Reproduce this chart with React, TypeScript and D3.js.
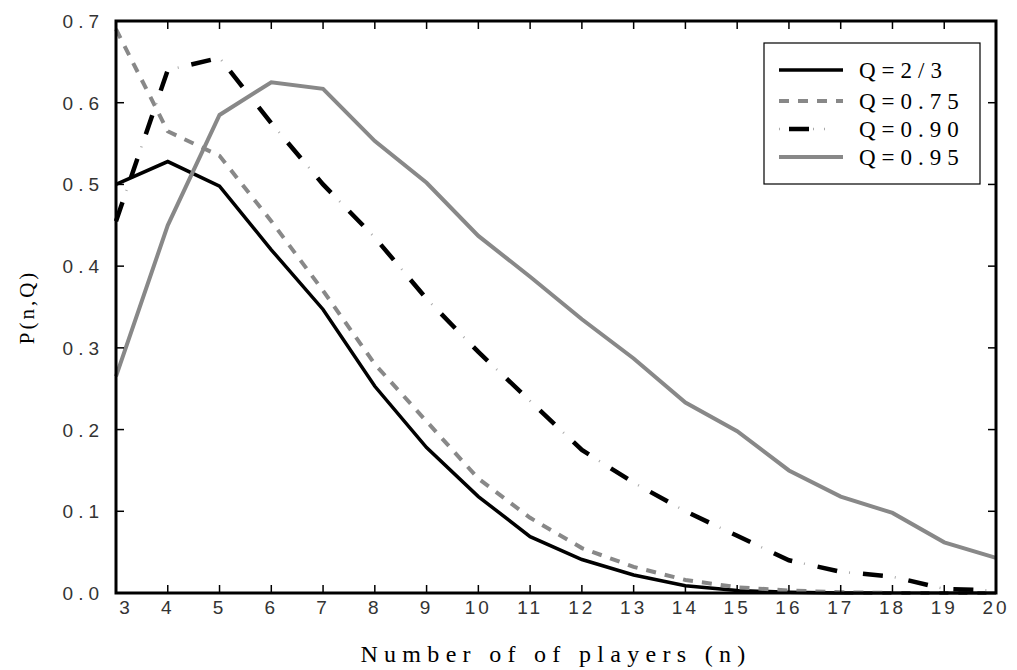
import { useEffect, useRef } from "react";
import * as d3 from "d3";

const players = [3, 4, 5, 6, 7, 8, 9, 10, 11, 12, 13, 14, 15, 16, 17, 18, 19, 20];

const q23 = [0.5, 0.528, 0.498, 0.42, 0.347, 0.253, 0.178, 0.118, 0.069, 0.041, 0.022, 0.009, 0.003, 0.001, 0, 0, 0, 0];
const q75 = [0.69, 0.565, 0.535, 0.455, 0.37, 0.28, 0.21, 0.14, 0.092, 0.055, 0.032, 0.016, 0.007, 0.003, 0.001, 0, 0, 0];
const q90 = [0.455, 0.64, 0.655, 0.575, 0.5, 0.435, 0.36, 0.295, 0.235, 0.175, 0.135, 0.1, 0.07, 0.04, 0.026, 0.02, 0.005, 0.003];
const q95 = [0.265, 0.45, 0.585, 0.625, 0.617, 0.553, 0.502, 0.437, 0.387, 0.335, 0.287, 0.233, 0.198, 0.15, 0.118, 0.098, 0.062, 0.043];

const seriesNames = ["Q=2/3", "Q=0.75", "Q=0.90", "Q=0.95"];
const yTicks = [0, 0.1, 0.2, 0.3, 0.4, 0.5, 0.6, 0.7];

// dot: optional thin grey dot drawn in the gaps of a dash-dot line
const styles = [
  { color: "#000", width: 3.5, dash: null, dot: false },
  { color: "#888", width: 4, dash: "10,9", dot: false },
  { color: "#000", width: 4.5, dash: "20,26", dot: true },
  { color: "#888", width: 4, dash: null, dot: false },
];

const App = () => {
  const svgRef = useRef<SVGSVGElement>(null);

  useEffect(() => {
    const svg = d3.select(svgRef.current);
    svg.selectAll("*").remove();

    const width = 1017;
    const height = 670;
    const margin = { top: 21, right: 21, bottom: 77, left: 116 };

    const x = d3.scaleLinear().domain([3, 20]).range([margin.left, width - margin.right]);
    const y = d3.scaleLinear().domain([0, 0.7]).range([height - margin.bottom, margin.top]);

    const all = [q23, q75, q90, q95];

    const line = d3
      .line<number>()
      .x((_, i) => x(players[i]))
      .y((d) => y(d));

    const plot = svg.append("g");
    all.forEach((vals, k) => {
      const s = styles[k];
      const p = plot
        .append("path")
        .attr("d", line(vals))
        .attr("fill", "none")
        .attr("stroke", s.color)
        .attr("stroke-width", s.width)
        .attr("stroke-linejoin", "miter");
      if (s.dash) p.attr("stroke-dasharray", s.dash);
      if (s.dot) {
        plot
          .append("path")
          .attr("d", line(vals))
          .attr("fill", "none")
          .attr("stroke", "#aaa")
          .attr("stroke-width", 2.5)
          .attr("stroke-dasharray", "1,45")
          .attr("stroke-dashoffset", -32);
      }
    });

    // ticks pointing inward on all four sides
    const tickLen = 8;
    const ticks = svg.append("g").attr("stroke", "#000").attr("stroke-width", 1.5);
    players.forEach((n) => {
      ticks.append("line").attr("x1", x(n)).attr("x2", x(n)).attr("y1", y(0)).attr("y2", y(0) - tickLen);
      ticks.append("line").attr("x1", x(n)).attr("x2", x(n)).attr("y1", y(0.7)).attr("y2", y(0.7) + tickLen);
    });
    yTicks.forEach((v) => {
      ticks.append("line").attr("x1", x(3)).attr("x2", x(3) + tickLen).attr("y1", y(v)).attr("y2", y(v));
      ticks.append("line").attr("x1", x(20)).attr("x2", x(20) - tickLen).attr("y1", y(v)).attr("y2", y(v));
    });

    svg
      .append("rect")
      .attr("x", x(3))
      .attr("y", y(0.7))
      .attr("width", x(20) - x(3))
      .attr("height", y(0) - y(0.7))
      .attr("fill", "none")
      .attr("stroke", "#000")
      .attr("stroke-width", 3);

    const tickFont = "'Liberation Sans', Arial, sans-serif";
    svg
      .append("g")
      .selectAll("text")
      .data(players)
      .enter()
      .append("text")
      .attr("x", (d) => x(d) + (d === 3 ? 10 : 0))
      .attr("y", y(0) + 21)
      .attr("text-anchor", "middle")
      .attr("font-family", tickFont)
      .attr("font-size", 19)
      .attr("letter-spacing", 3)
      .attr("fill", "#333")
      .text((d) => String(d));

    svg
      .append("g")
      .selectAll("text")
      .data(yTicks)
      .enter()
      .append("text")
      .attr("x", margin.left - 12)
      .attr("y", (d) => y(d) + 7)
      .attr("text-anchor", "end")
      .attr("font-family", tickFont)
      .attr("font-size", 19)
      .attr("letter-spacing", 5)
      .attr("fill", "#333")
      .text((d) => d.toFixed(1));

    const serifFont = "'Liberation Serif', 'Times New Roman', serif";
    svg
      .append("text")
      .attr("x", (x(3) + x(20)) / 2)
      .attr("y", 662)
      .attr("text-anchor", "middle")
      .attr("font-family", serifFont)
      .attr("font-size", 24)
      .attr("letter-spacing", 6.3)
      .attr("fill", "#000")
      .text("Number of of players (n)");

    svg
      .append("text")
      .attr("transform", `translate(34, ${(y(0) + y(0.7)) / 2}) rotate(-90)`)
      .attr("text-anchor", "middle")
      .attr("font-family", serifFont)
      .attr("font-size", 21)
      .attr("letter-spacing", 3)
      .attr("fill", "#000")
      .text("P(n,Q)");

    // legend
    const lg = svg.append("g");
    lg.append("rect")
      .attr("x", 764)
      .attr("y", 43)
      .attr("width", 216)
      .attr("height", 141)
      .attr("fill", "#fff")
      .attr("stroke", "#000")
      .attr("stroke-width", 1.2);
    const rowY = [70, 101, 129, 157];
    seriesNames.forEach((name, k) => {
      const s = styles[k];
      const l = lg
        .append("line")
        .attr("x1", 779)
        .attr("x2", 843)
        .attr("y1", rowY[k])
        .attr("y2", rowY[k])
        .attr("stroke", s.color)
        .attr("stroke-width", s.width);
      if (s.dash) l.attr("stroke-dasharray", k === 2 ? "0,10,20,40" : s.dash);
      if (s.dot) {
        lg.append("line")
          .attr("x1", 779)
          .attr("x2", 843)
          .attr("y1", rowY[k])
          .attr("y2", rowY[k])
          .attr("stroke", "#aaa")
          .attr("stroke-width", 2.5)
          .attr("stroke-dasharray", "1,33,1,10,1,20");
      }
      lg.append("text")
        .attr("x", 859)
        .attr("y", rowY[k] + 8)
        .attr("font-family", serifFont)
        .attr("font-size", 23)
        .attr("letter-spacing", 6)
        .attr("fill", "#000")
        .text(name);
    });
  }, []);

  return (
    <svg
      ref={svgRef}
      width={1017}
      height={670}
      style={{ position: "absolute", left: 0, top: 0, background: "#fff" }}
    ></svg>
  );
};

export default App;
